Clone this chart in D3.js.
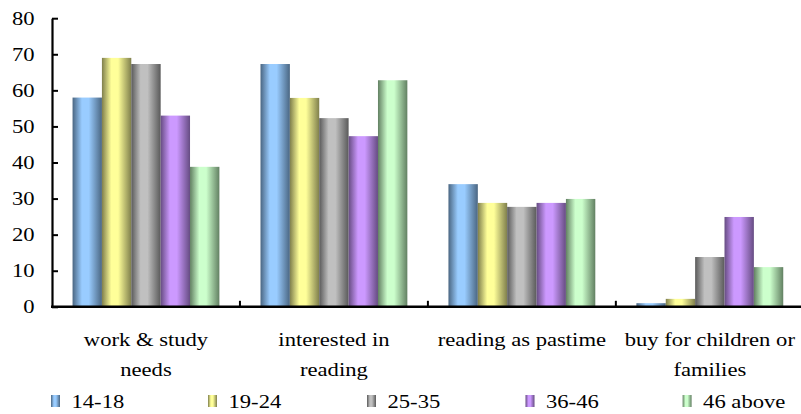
<!DOCTYPE html>
<html>
<head>
<meta charset="utf-8">
<script src="https://cdn.jsdelivr.net/npm/d3@7/dist/d3.min.js"></script>
<style>
  html, body { margin: 0; padding: 0; background: #ffffff; }
  svg { display: block; }
</style>
</head>
<body>
<svg id="chart" width="801" height="414"></svg>
<script>
// Reasons for reading, by age group (percent)
const categories = ["work & study needs", "interested in reading", "reading as pastime", "buy for children or families"];
const categoryLines = [["work & study", "needs"], ["interested in", "reading"], ["reading as pastime"], ["buy for children or", "families"]];
const series = ["14-18", "19-24", "25-35", "36-46", "46 above"];
const values = [
  [58, 69, 67.3, 53, 38.8],
  [67.3, 57.9, 52.3, 47.3, 62.8],
  [34, 28.8, 27.7, 28.8, 29.9],
  [1, 2.2, 13.8, 24.9, 11]
];
const yTicks = [0, 10, 20, 30, 40, 50, 60, 70, 80];
// light centre colour and dark edge colour for each series
const lightColors = ["#99ccff", "#ffff99", "#c0c0c0", "#cc99ff", "#ccffcc"];
const darkColors  = ["#4a6682", "#7f7f4c", "#5a5a5a", "#664c82", "#628062"];

const FONT_FAMILY = "'Liberation Serif', 'Times New Roman', serif";
const FONT = 19.5, STRETCH = 1.16;

const svg = d3.select("#chart");
svg.append("rect").attr("width", 801).attr("height", 414).attr("fill", "#ffffff");

const y = d3.scaleLinear().domain([0, 80]).range([306.8, 18.2]);
const x0 = d3.scaleBand().domain(categories).range([52, 803.8]).paddingInner(0).paddingOuter(0);
const x1 = d3.scaleBand().domain(series).range([0, x0.bandwidth()]).paddingInner(0).paddingOuter(0.7);

// horizontal cylinder-like shading for each series
const defs = svg.append("defs");
series.forEach((s, i) => {
  const g = defs.append("linearGradient").attr("id", "grad" + i)
    .attr("x1", "0%").attr("x2", "100%").attr("y1", "0%").attr("y2", "0%");
  [[0, darkColors[i]], [0.32, lightColors[i]], [0.55, lightColors[i]], [1, darkColors[i]]]
    .forEach(([o, c]) => g.append("stop").attr("offset", o).attr("stop-color", c));
});

// bars
const groups = svg.append("g").selectAll("g").data(categories).join("g")
  .attr("transform", d => `translate(${x0(d)},0)`);
groups.selectAll("rect")
  .data((c, ci) => series.map((s, si) => ({ s, si, v: values[ci][si] })))
  .join("rect")
  .attr("x", d => x1(d.s))
  .attr("width", x1.bandwidth())
  .attr("y", d => y(d.v))
  .attr("height", d => y(0) - y(d.v))
  .attr("fill", d => `url(#grad${d.si})`);

// y axis: ticks point into the plot
const yAxis = svg.append("g").attr("transform", "translate(52,0)")
  .call(d3.axisLeft(y).tickValues(yTicks).tickSizeInner(-6).tickSizeOuter(0).tickPadding(17.5));
yAxis.attr("font-family", null).attr("font-size", null);
yAxis.select(".domain").attr("stroke", "#000").attr("stroke-width", 2.2);
yAxis.selectAll(".tick line").attr("stroke", "#000").attr("stroke-width", 2);
yAxis.selectAll(".tick text").attr("dy", "0.3em");

// x axis baseline and category separators
svg.append("line").attr("x1", 51).attr("x2", 801).attr("y1", y(0)).attr("y2", y(0))
  .attr("stroke", "#000").attr("stroke-width", 2.4);
svg.append("g").selectAll("line").data(categories.slice(1)).join("line")
  .attr("x1", d => x0(d)).attr("x2", d => x0(d))
  .attr("y1", y(0)).attr("y2", y(0) - 6)
  .attr("stroke", "#000").attr("stroke-width", 2);

// category labels
const catG = svg.append("g");
categories.forEach((c, ci) => {
  categoryLines[ci].forEach((line, li) => {
    catG.append("text")
      .attr("x", x0(c) + x0.bandwidth() / 2)
      .attr("y", 346 + li * 30)
      .attr("text-anchor", "middle")
      .text(line);
  });
});

// legend
const legendX = [51, 208, 367, 525.5, 682.6];
const legend = svg.append("g").selectAll("g").data(series).join("g")
  .attr("transform", (d, i) => `translate(${legendX[i]},0)`);
legend.append("rect").attr("x", 0).attr("y", 395).attr("width", 9).attr("height", 12)
  .attr("fill", (d, i) => `url(#grad${i})`);
legend.append("text").attr("x", 20.5).attr("y", 408).text(d => d);

// serif labels, widened horizontally about their anchor point
svg.selectAll("text")
  .style("font-family", FONT_FAMILY)
  .style("font-size", FONT + "px")
  .attr("fill", "#000")
  .each(function () {
    const t = d3.select(this);
    const tx = +t.attr("x") || 0, ty = +t.attr("y") || 0;
    t.attr("x", 0).attr("y", 0)
      .attr("transform", `translate(${tx},${ty}) scale(${STRETCH},1)`);
  });
</script>
</body>
</html>
